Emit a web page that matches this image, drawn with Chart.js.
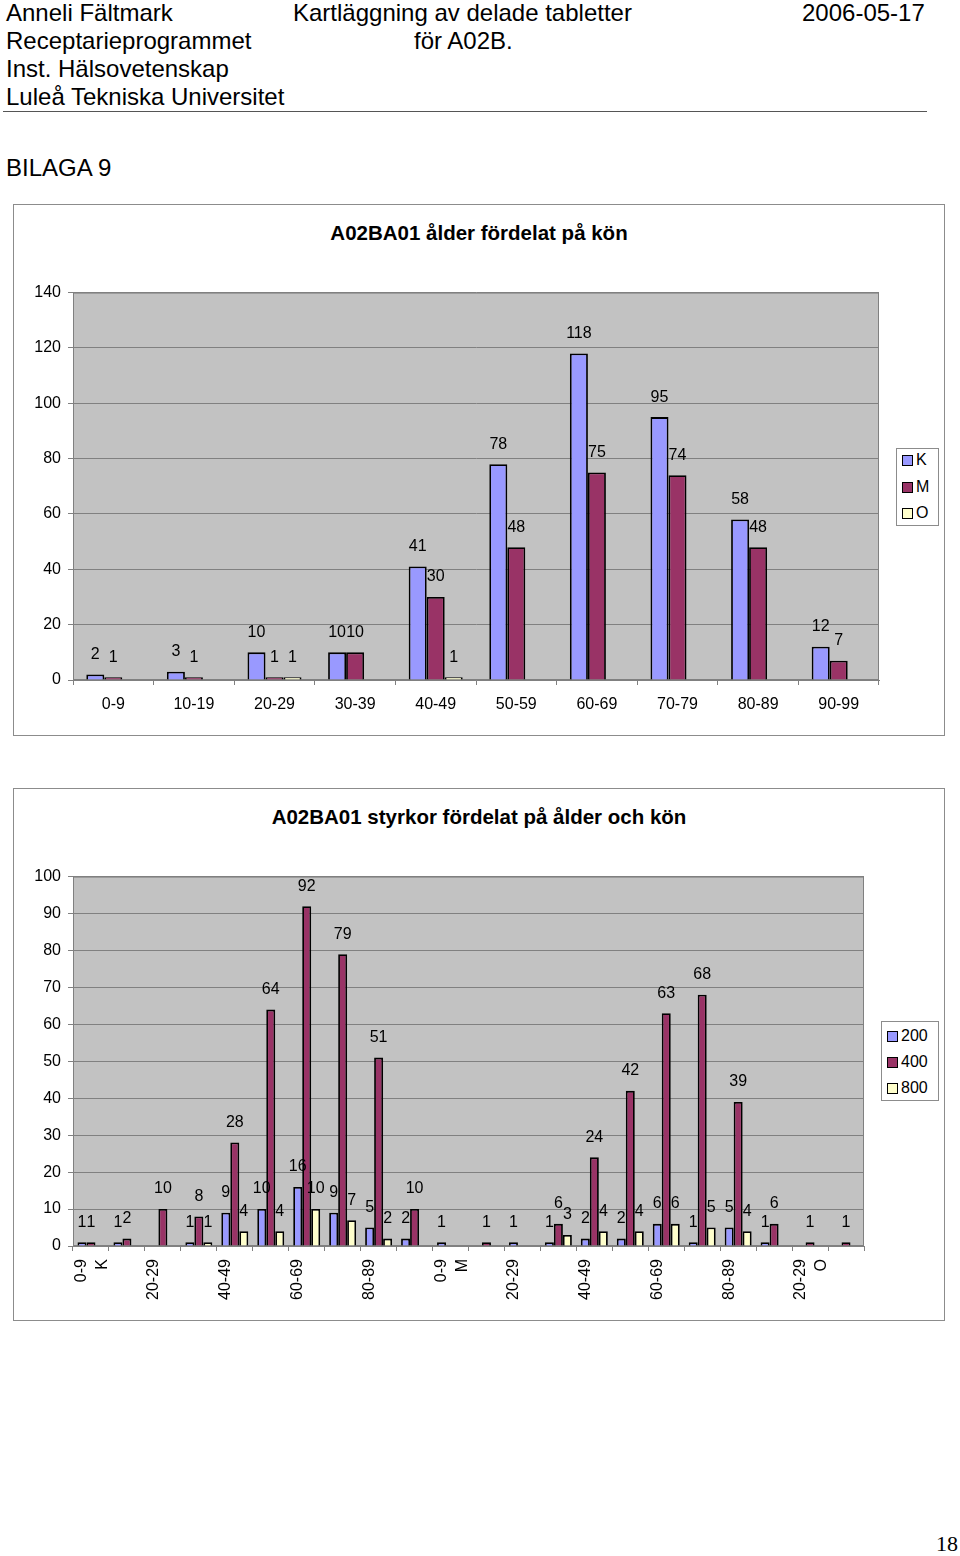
<!DOCTYPE html>
<html lang="sv">
<head>
<meta charset="UTF-8">
<title>Bilaga 9</title>
<script src="https://cdn.jsdelivr.net/npm/chart.js"></script>
<style>
  body {
    margin: 0;
    width: 960px;
    height: 1556px;
    position: relative;
    overflow: hidden;
    background: #fff;
    color: #000;
    font-family: 'Liberation Sans', Arial, sans-serif;
  }
  .txt { position: absolute; font-size: 24px; line-height: 28px; white-space: nowrap; }
  .rule { position: absolute; left: 3px; top: 111px; width: 924px; border-top: 1px solid #555; }
  .box { position: absolute; left: 13px; width: 932px; box-sizing: border-box; border: 1px solid #8c8c8c; }
  .title { position: absolute; left: 13px; width: 932px; text-align: center; font-weight: bold; font-size: 20.5px; line-height: 24px; }
  .wrap { position: absolute; }
  .legend { position: absolute; box-sizing: border-box; border: 1px solid #8c8c8c; background: #fff; font-size: 16px; }
  .legend .item { position: absolute; left: 5px; height: 20px; line-height: 20px; white-space: nowrap; }
  .legend .mark { display: inline-block; width: 11px; height: 11px; box-sizing: border-box; border: 1.5px solid #000; vertical-align: -1px; margin-right: 3px; }
  .pagenr { position: absolute; left: 936px; top: 1531px; font-family: 'Liberation Serif', 'Times New Roman', serif; font-size: 22px; line-height: 26px; }
</style>
</head>
<body>

<div class="txt" style="left:6px; top:-1px;">Anneli Fältmark</div>
<div class="txt" style="left:6px; top:27px;">Receptarieprogrammet</div>
<div class="txt" style="left:6px; top:55px;">Inst. Hälsovetenskap</div>
<div class="txt" style="left:6px; top:83px;">Luleå Tekniska Universitet</div>
<div class="txt" style="left:293px; top:-1px;">Kartläggning av delade tabletter</div>
<div class="txt" style="left:414px; top:27px;">för A02B.</div>
<div class="txt" style="left:802px; top:-1px;">2006-05-17</div>
<div class="rule"></div>
<div class="txt" style="left:6px; top:154px;">BILAGA 9</div>

<!-- diagram 1 -->
<div class="box" style="top:204px; height:532px;"></div>
<div class="title" style="top:221px;">A02BA01 ålder fördelat på kön</div>
<div class="wrap" style="left:14px; top:276px;"><canvas id="alderKon" width="880" height="450"></canvas></div>
<div class="legend" style="left:896px; top:448px; width:43px; height:78px;">
  <div class="item" style="top:1px;"><span class="mark" style="background:#9999ff"></span>K</div>
  <div class="item" style="top:28px;"><span class="mark" style="background:#993366"></span>M</div>
  <div class="item" style="top:54px;"><span class="mark" style="background:#ffffcc"></span>O</div>
</div>

<!-- diagram 2 -->
<div class="box" style="top:788px; height:533px;"></div>
<div class="title" style="top:805px;">A02BA01 styrkor fördelat på ålder och kön</div>
<div class="wrap" style="left:14px; top:860px;"><canvas id="styrkor" width="866" height="451"></canvas></div>
<div class="legend" style="left:881px; top:1021px; width:58px; height:80px;">
  <div class="item" style="top:4px;"><span class="mark" style="background:#9999ff"></span>200</div>
  <div class="item" style="top:30px;"><span class="mark" style="background:#993366"></span>400</div>
  <div class="item" style="top:56px;"><span class="mark" style="background:#ffffcc"></span>800</div>
</div>

<div class="pagenr">18</div>

<script>
// diagram 1: ålder fördelat på kön
const aldrar = ['0-9', '10-19', '20-29', '30-39', '40-49', '50-59', '60-69', '70-79', '80-89', '90-99'];
const konK = [2, 3, 10, 10, 41, 78, 118, 95, 58, 12];
const konM = [1, 1, 1, 10, 30, 48, 75, 74, 48, 7];
const konO = [null, null, 1, null, 1, null, null, null, null, null];
const yTicks1 = [0, 20, 40, 60, 80, 100, 120, 140];

// diagram 2: styrkor per ålder och kön (K 0-99, M 0-99, O 20-29 och 40-49)
const aldrar2 = ['0-9', '10-19', '20-29', '30-39', '40-49', '50-59', '60-69', '70-79', '80-89', '90-99',
                 '0-9', '10-19', '20-29', '30-39', '40-49', '50-59', '60-69', '70-79', '80-89', '90-99',
                 '20-29', '40-49'];
const kon2 = ['K', '', '', '', '', '', '', '', '', '',
              'M', '', '', '', '', '', '', '', '', '',
              'O', ''];
const styrka200 = [1, 1, null, 1, 9, 10, 16, 9, 5, 2,
                   1, null, 1, 1, 2, 2, 6, 1, 5, 1,
                   null, null];
const styrka400 = [1, 2, 10, 8, 28, 64, 92, 79, 51, 10,
                   null, 1, null, 6, 24, 42, 63, 68, 39, 6,
                   1, 1];
const styrka800 = [null, null, null, 1, 4, 4, 10, 7, 2, null,
                   null, null, null, 3, 4, 4, 6, 5, 4, null,
                   null, null];
const yTicks2 = [0, 10, 20, 30, 40, 50, 60, 70, 80, 90, 100];

const BLA = '#9999ff', LILA = '#993366', GUL = '#ffffcc';
const FONT = "'Liberation Sans', Arial, sans-serif";

Chart.defaults.font.family = FONT;
Chart.defaults.font.size = 16;
Chart.defaults.color = '#000';

// grå plottyta med ram
const plotBg = {
  id: 'plotBg',
  beforeDraw(chart) {
    const { ctx, chartArea: a } = chart;
    ctx.save();
    ctx.fillStyle = '#c2c2c2';
    ctx.fillRect(a.left, a.top, a.right - a.left, a.bottom - a.top);
    ctx.strokeStyle = '#808080';
    ctx.lineWidth = 1;
    ctx.strokeRect(a.left + 0.5, a.top + 0.5, a.right - a.left - 1, a.bottom - a.top - 1);
    ctx.restore();
  }
};

// värden ovanför staplarna
const valueLabels = {
  id: 'valueLabels',
  afterDatasetsDraw(chart) {
    const ctx = chart.ctx;
    ctx.save();
    ctx.font = '16px ' + FONT;
    ctx.fillStyle = '#000';
    ctx.textAlign = 'center';
    ctx.textBaseline = 'middle';
    chart.data.datasets.forEach((ds, i) => {
      chart.getDatasetMeta(i).data.forEach((bar, j) => {
        const v = ds.data[j];
        if (v === null || v === undefined) return;
        ctx.fillText(String(v), bar.x, bar.y - 20);
      });
    });
    ctx.restore();
  }
};

function barSet(label, data, color) {
  return { label: label, data: data, backgroundColor: color, borderColor: '#000', borderWidth: 1.8 };
}

new Chart(document.getElementById('alderKon'), {
  type: 'bar',
  data: {
    labels: aldrar,
    datasets: [barSet('K', konK, BLA), barSet('M', konM, LILA), barSet('O', konO, GUL)]
  },
  options: {
    responsive: false,
    animation: false,
    layout: { padding: { top: 12, right: 15, left: 0, bottom: 0 } },
    datasets: { bar: { categoryPercentage: 0.67, barPercentage: 1 } },
    plugins: { legend: { display: false }, tooltip: { enabled: false } },
    scales: {
      x: {
        grid: { offset: true, drawOnChartArea: false, tickLength: 5, color: '#808080' },
        border: { color: '#808080' },
        ticks: { padding: 10, autoSkip: false, maxRotation: 0 },
        afterFit(scale) { scale.height = 46; }
      },
      y: {
        min: 0, max: 140,
        afterBuildTicks(scale) { scale.ticks = yTicks1.map(v => ({ value: v })); },
        grid: { color: '#808080', tickLength: 5 },
        border: { color: '#808080' },
        ticks: { padding: 7 },
        afterFit(scale) { scale.width = 59; }
      }
    }
  },
  plugins: [plotBg, valueLabels]
});

new Chart(document.getElementById('styrkor'), {
  type: 'bar',
  data: {
    labels: aldrar2,
    datasets: [barSet('200', styrka200, BLA), barSet('400', styrka400, LILA), barSet('800', styrka800, GUL)]
  },
  options: {
    responsive: false,
    animation: false,
    layout: { padding: { top: 10, right: 16, left: 0, bottom: 0 } },
    datasets: { bar: { categoryPercentage: 0.75, barPercentage: 1 } },
    plugins: { legend: { display: false }, tooltip: { enabled: false } },
    scales: {
      x: {
        grid: { offset: true, drawOnChartArea: false, tickLength: 5, color: '#808080' },
        border: { color: '#808080' },
        ticks: {
          padding: 8, autoSkip: false, minRotation: 90, maxRotation: 90, labelOffset: -9,
          font: { size: 16, lineHeight: 1.3 },
          callback: (v, i) => (i % 2 === 0 ? [aldrar2[i], kon2[i]] : '')
        },
        afterFit(scale) { scale.height = 65; }
      },
      y: {
        min: 0, max: 100,
        afterBuildTicks(scale) { scale.ticks = yTicks2.map(v => ({ value: v })); },
        grid: { color: '#808080', tickLength: 5 },
        border: { color: '#808080' },
        ticks: { padding: 7 },
        afterFit(scale) { scale.width = 59; }
      }
    }
  },
  plugins: [plotBg, valueLabels]
});
</script>
</body>
</html>
